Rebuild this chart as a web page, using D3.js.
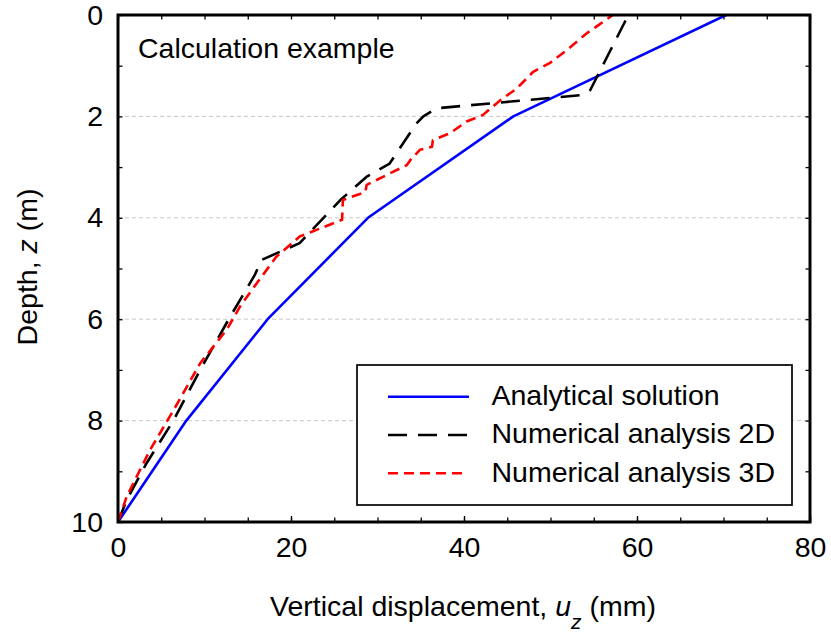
<!DOCTYPE html>
<html>
<head>
<meta charset="utf-8">
<script src="https://cdn.jsdelivr.net/npm/d3@7"></script>
<style>
  body { margin: 0; background: #fff; }
  svg { font-family: "Liberation Sans", Arial, sans-serif; }
</style>
</head>
<body>
<svg id="chart" width="831" height="635"></svg>
<script>
// ---- data: [displacement (mm), depth (m)] ----
const analytical = [
  [0, 10], [7.9, 8], [17.3, 6], [28.9, 4], [45.7, 2], [70.3, 0]
];

const numerical2D = [
  [0, 10], [1.0, 9.57], [3.3, 8.84], [6.4, 8.0], [9.5, 7.0], [12.8, 6.0],
  [15.8, 5.13], [16.6, 4.83], [21.0, 4.5], [25.7, 3.65], [28.75, 3.19],
  [31.4, 2.93], [34.5, 2.14], [35.3, 2.0], [36.8, 1.84], [53.6, 1.58],
  [54.6, 1.48], [59.0, 0]
];

const numerical3D = [
  [0, 10], [1.0, 9.5], [3.7, 8.58], [6.4, 7.8], [9.5, 6.87], [12.6, 6.2],
  [14.1, 5.75], [16.0, 5.3], [18.3, 4.77], [21.0, 4.37], [25.9, 4.04],
  [26.0, 3.65], [28.6, 3.49], [28.75, 3.35], [33.4, 2.96], [33.8, 2.86],
  [34.9, 2.66], [36.3, 2.6], [36.4, 2.47], [38.4, 2.33], [40.3, 2.1],
  [42.2, 1.97], [44.2, 1.68], [46.1, 1.45], [48.0, 1.12], [49.9, 0.95],
  [51.9, 0.69], [54.2, 0.36], [55.3, 0.23], [57.2, 0]
];

const xTicks = [0, 20, 40, 60, 80];
const yTicks = [0, 2, 4, 6, 8, 10];

const seriesList = [
  { name: "Analytical solution", data: analytical, color: "#0000ff", dash: null },
  { name: "Numerical analysis 2D", data: numerical2D, color: "#000000", dash: "19,11" },
  { name: "Numerical analysis 3D", data: numerical3D, color: "#ff0000", dash: "10,6" }
];

const FONT = 28.5;

/* ============================
   Layout
============================ */

const margin = { left: 118, top: 15, right: 21, bottom: 113 };
const width = 831, height = 635;
const innerW = width - margin.left - margin.right;
const innerH = height - margin.top - margin.bottom;

const svg = d3.select("#chart");
const g = svg.append("g").attr("transform", `translate(${margin.left},${margin.top})`);

const x = d3.scaleLinear().domain([0, 80]).range([0, innerW]);
const y = d3.scaleLinear().domain([0, 10]).range([0, innerH]);

// gridlines
g.selectAll("line.grid")
  .data([2, 4, 6, 8])
  .enter()
  .append("line")
  .attr("class", "grid")
  .attr("x1", 0)
  .attr("x2", innerW)
  .attr("y1", d => y(d))
  .attr("y2", d => y(d))
  .attr("stroke", "#c8c8c8")
  .attr("stroke-width", 1)
  .attr("stroke-dasharray", "4,3");

// inward ticks on all four sides
function addTicks(axisFn, scale, values, size, transform) {
  g.append("g")
    .attr("transform", transform)
    .call(axisFn(scale).tickValues(values).tickSize(size).tickFormat(""))
    .call(a => a.select(".domain").remove())
    .call(a => a.selectAll("line").attr("stroke", "#000").attr("stroke-width", 1.3));
}
const xMinor = d3.range(0, 81, 5);
const yMinor = d3.range(0, 11, 1);
addTicks(d3.axisTop, x, xMinor, 4.5, `translate(0,${innerH})`);
addTicks(d3.axisBottom, x, xMinor, 4.5, `translate(0,0)`);
addTicks(d3.axisRight, y, yMinor, 4.5, `translate(0,0)`);
addTicks(d3.axisLeft, y, yMinor, 4.5, `translate(${innerW},0)`);
addTicks(d3.axisTop, x, xTicks, 6, `translate(0,${innerH})`);

// tick labels
function styleLabels(a) {
  a.select(".domain").remove();
  a.selectAll("text")
    .attr("font-size", FONT)
    .attr("font-family", "Liberation Sans, Arial, sans-serif")
    .attr("fill", "#000");
}

g.append("g")
  .attr("transform", `translate(0,${innerH})`)
  .call(d3.axisBottom(x).tickValues(xTicks).tickSize(0).tickPadding(15))
  .call(styleLabels);

g.append("g")
  .call(d3.axisLeft(y).tickValues(yTicks).tickSize(0).tickPadding(15))
  .call(styleLabels);

// lines
const line = d3.line()
  .x(d => x(d[0]))
  .y(d => y(d[1]));

g.append("defs").append("clipPath").attr("id", "clip")
  .append("rect").attr("width", innerW).attr("height", innerH);

g.append("g")
  .attr("clip-path", "url(#clip)")
  .selectAll("path.series")
  .data(seriesList)
  .enter()
  .append("path")
  .attr("class", "series")
  .attr("d", d => line(d.data))
  .attr("fill", "none")
  .attr("stroke", d => d.color)
  .attr("stroke-width", 2.6)
  .attr("stroke-linejoin", "round")
  .attr("stroke-dasharray", d => d.dash);

// frame
g.append("rect")
  .attr("width", innerW)
  .attr("height", innerH)
  .attr("fill", "none")
  .attr("stroke", "#000")
  .attr("stroke-width", 3);

// annotation
g.append("text")
  .attr("x", 20)
  .attr("y", 58 - margin.top)
  .attr("font-size", FONT)
  .text("Calculation example");

/* ============================
   Legend
============================ */

const legend = g.append("g").attr("transform", `translate(${357 - margin.left},${365 - margin.top})`);
legend.append("rect")
  .attr("width", 435)
  .attr("height", 140)
  .attr("fill", "#fff")
  .attr("stroke", "#000")
  .attr("stroke-width", 1.7);

const items = legend.selectAll("g.item")
  .data(seriesList)
  .enter()
  .append("g")
  .attr("transform", (_, i) => `translate(0,${31.7 + i * 38.3})`);

items.append("line")
  .attr("x1", 31)
  .attr("x2", d => d.dash === "10,6" ? 109 : 112)
  .attr("stroke", d => d.color)
  .attr("stroke-width", 2.6)
  .attr("stroke-dasharray", d => d.dash);

items.append("text")
  .attr("x", 134.5)
  .attr("y", 8.3)
  .attr("font-size", FONT)
  .text(d => d.name);

/* ============================
   Axis titles
============================ */

const xt = svg.append("text")
  .attr("x", 463)
  .attr("y", 616)
  .attr("text-anchor", "middle")
  .attr("font-size", FONT);
xt.append("tspan").text("Vertical displacement, ");
xt.append("tspan").attr("font-style", "italic").text("u");
xt.append("tspan").attr("font-style", "italic").attr("font-size", 21).attr("dy", 13).text("z");
xt.append("tspan").attr("dy", -13).text(" (mm)");

const yt = svg.append("text")
  .attr("transform", `translate(37,267) rotate(-90)`)
  .attr("text-anchor", "middle")
  .attr("font-size", FONT);
yt.append("tspan").text("Depth, ");
yt.append("tspan").attr("font-style", "italic").text("z");
yt.append("tspan").text(" (m)");
</script>
</body>
</html>
